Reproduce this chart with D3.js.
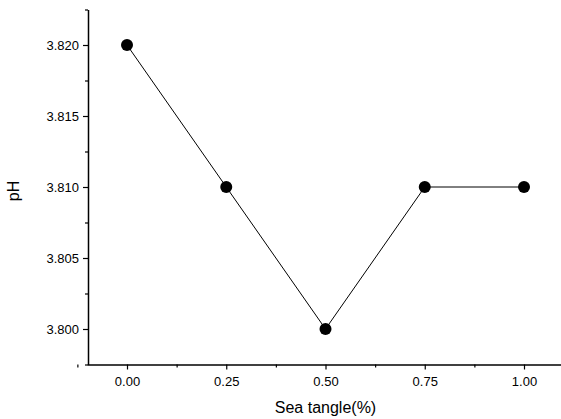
<!DOCTYPE html>
<html><head><meta charset="utf-8">
<script src="https://cdn.jsdelivr.net/npm/d3@7"></script>
<style>body{margin:0;background:#fff}svg{display:block}text{font-family:"Liberation Sans",Arial,sans-serif;fill:#000}</style>
</head><body>
<script>
const seaTangle = [0.00, 0.25, 0.50, 0.75, 1.00];
const pH = [3.820, 3.810, 3.800, 3.810, 3.810];
const xTicks = [0.00, 0.25, 0.50, 0.75, 1.00];
const xMinor = [-0.125, 0.125, 0.375, 0.625, 0.875, 1.125];
const yTicks = [3.800, 3.805, 3.810, 3.815, 3.820];
const yMinor = [3.7975, 3.8025, 3.8075, 3.8125, 3.8175, 3.8225];

const W = 561, H = 419;
const svg = d3.select("body").append("svg").attr("width", W).attr("height", H);
const x = d3.scaleLinear().domain([-0.1, 1.1]).range([87.3, 563.7]);
const y = d3.scaleLinear().domain([3.7975, 3.8225]).range([364.5, 9.5]);

const xAxis = svg.append("g").attr("transform", "translate(0,364.5)")
  .call(d3.axisBottom(x).tickValues(xTicks).tickFormat(d3.format(".2f")).tickSize(5).tickSizeOuter(0));
const xMin = svg.append("g").attr("transform", "translate(0,364.5)")
  .call(d3.axisBottom(x).tickValues(xMinor).tickFormat("").tickSize(3).tickSizeOuter(0));
xMin.select(".domain").remove();
const yAxis = svg.append("g").attr("transform", "translate(88,0)")
  .call(d3.axisLeft(y).tickValues(yTicks).tickFormat(d3.format(".3f")).tickSize(5).tickSizeOuter(0));
const yMin = svg.append("g").attr("transform", "translate(88,0)")
  .call(d3.axisLeft(y).tickValues(yMinor).tickFormat("").tickSize(3).tickSizeOuter(0));
yMin.select(".domain").remove();

svg.selectAll(".domain").attr("stroke", "#000").attr("stroke-width", 1.5);
svg.selectAll(".tick line").attr("stroke", "#000").attr("stroke-width", 1.2);
xAxis.selectAll(".tick text").attr("font-size", 13).attr("dy", "1.0em").attr("font-family", "Liberation Sans, Arial, sans-serif");
yAxis.selectAll(".tick text").attr("font-size", 13).attr("dx", "-1px").attr("font-family", "Liberation Sans, Arial, sans-serif");

const pts = seaTangle.map((v, i) => [v, pH[i]]);
svg.append("path").datum(pts)
  .attr("fill", "none").attr("stroke", "#000").attr("stroke-width", 1)
  .attr("d", d3.line().x(d => x(d[0])).y(d => y(d[1])));
svg.selectAll("circle.pt").data(pts).enter().append("circle")
  .attr("cx", d => x(d[0])).attr("cy", d => y(d[1])).attr("r", 6).attr("fill", "#000");

svg.append("text").attr("x", x(0.5)).attr("y", 413).attr("text-anchor", "middle")
  .attr("font-size", 16).text("Sea tangle(%)");
svg.append("text").attr("transform", "translate(19,191) rotate(-90)").attr("text-anchor", "middle")
  .attr("font-size", 16).text("pH");
</script>
</body></html>
